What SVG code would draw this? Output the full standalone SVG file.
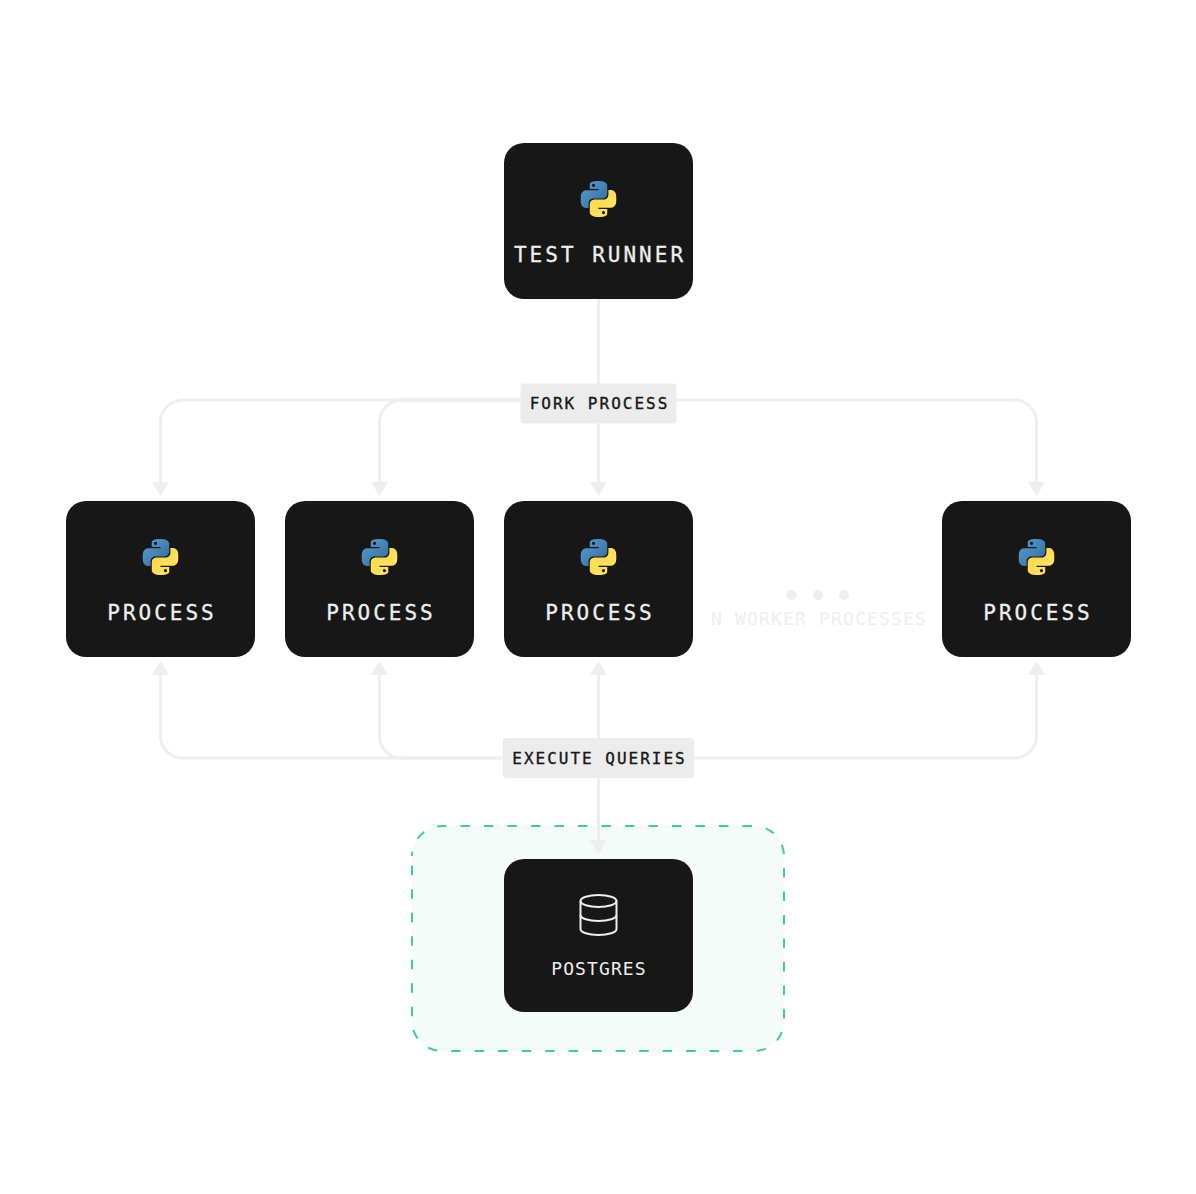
<svg xmlns="http://www.w3.org/2000/svg" width="1196" height="1194" viewBox="0 0 1196 1194">
<style>
.node{fill:#171717}
.lbl{font-family:"DejaVu Sans Mono","Liberation Mono",monospace;font-size:21px;letter-spacing:3px;fill:#eeeeee;stroke:#eeeeee;stroke-width:.3px;text-anchor:middle}
.pill{fill:#ececec}
.pt{font-family:"DejaVu Sans Mono","Liberation Mono",monospace;font-size:16px;letter-spacing:2px;fill:#171717;stroke:#171717;stroke-width:.35px;text-anchor:middle}
.c{fill:none;stroke:#eeeeee;stroke-width:3}
.a{fill:#eeeeee}
</style>
<defs>
<linearGradient id="b" x1="0" y1="0" x2="1" y2="1"><stop offset="0" stop-color="#5a9fd4"/><stop offset="1" stop-color="#306998"/></linearGradient>
<linearGradient id="y" x1="0" y1="0" x2="1" y2="1"><stop offset="0" stop-color="#ffd43b"/><stop offset="1" stop-color="#ffe873"/></linearGradient>
<symbol id="py" viewBox="0 0 24 24">
<path fill="url(#b)" fill-rule="evenodd" d="M14.25.18l.9.2.73.26.59.3.45.32.34.34.25.34.16.33.1.3.04.26.02.2-.01.13V8.5l-.05.63-.13.55-.21.46-.26.38-.3.31-.33.25-.35.19-.35.14-.33.1-.3.07-.26.04-.21.02H8.77l-.69.05-.59.14-.5.22-.41.27-.33.32-.27.35-.2.36-.15.37-.1.35-.07.32-.04.27-.02.21v3.06H3.17l-.21-.03-.28-.07-.32-.12-.35-.18-.36-.26-.36-.36-.35-.46-.32-.59-.28-.73-.21-.88-.14-1.05-.05-1.23.06-1.22.16-1.04.24-.87.32-.71.36-.57.4-.44.42-.33.42-.24.4-.16.36-.1.32-.05.24-.01h.16l.06.01h8.16v-.83H6.18l-.01-2.75-.02-.37.05-.34.11-.31.17-.28.25-.26.31-.23.38-.2.44-.18.51-.15.58-.12.64-.1.71-.06.77-.04.84-.02 1.27.05zm-6.3 1.98l-.23.33-.08.41.08.41.23.34.33.22.41.09.41-.09.33-.22.23-.34.08-.41-.08-.41-.23-.33-.33-.22-.41-.09-.41.09z"/>
<path fill="url(#y)" fill-rule="evenodd" d="M21.04 6.11l.28.06.32.12.35.18.36.27.36.35.35.47.32.59.28.73.21.88.14 1.04.05 1.23-.06 1.23-.16 1.04-.24.86-.32.71-.36.57-.4.45-.42.33-.42.24-.4.16-.36.09-.32.05-.24.02-.16-.01h-8.22v.82h5.84l.01 2.76.02.36-.05.34-.11.31-.17.29-.25.25-.31.24-.38.2-.44.17-.51.15-.58.13-.64.09-.71.07-.77.04-.84.01-1.27-.04-1.07-.14-.9-.2-.73-.25-.59-.3-.45-.33-.34-.34-.25-.34-.16-.33-.1-.3-.04-.25-.02-.2.01-.13v-5.34l.05-.64.13-.54.21-.46.26-.38.3-.32.33-.24.35-.2.35-.14.33-.1.3-.06.26-.04.21-.02.13-.01h5.84l.69-.05.59-.14.5-.21.41-.28.33-.32.27-.35.2-.36.15-.36.1-.35.07-.32.04-.28.02-.21V6.07h2.09l.14.01zm-6.47 14.25l-.23.33-.08.41.08.41.23.33.33.23.41.08.41-.08.33-.23.23-.33.08-.41-.08-.41-.23-.33-.33-.23-.41-.08-.41.08z"/>
</symbol>
<polygon id="ad" class="a" points="-8.500,-14 8.500,-14 0,0"/>
<polygon id="au" class="a" points="-8.500,14 8.500,14 0,0"/>
</defs>
<rect width="1196" height="1194" fill="#ffffff"/>
<g id="postgres-zone"><path d="M412 856A30 30 0 0 1 442 826H754A30 30 0 0 1 784 856V1021A30 30 0 0 1 754 1051H442A30 30 0 0 1 412 1021Z" fill="#f5fbf9" stroke="#3ecf8e" stroke-width="2" stroke-dasharray="9.500 14" stroke-dashoffset="5"/></g>
<g id="connectors">
<path class="c" d="M598.500 299V484"/>
<path class="c" d="M598 400H182.500A22 22 0 0 0 160.500 422V484"/>
<path class="c" d="M598 400H401.500A22 22 0 0 0 379.500 422V484"/>
<path class="c" d="M598 400H1014.500A22 22 0 0 1 1036.500 422V484"/>
<path class="c" d="M598.500 674V840"/>
<path class="c" d="M598 758H182.500A22 22 0 0 1 160.500 736V674"/>
<path class="c" d="M598 758H401.500A22 22 0 0 1 379.500 736V674"/>
<path class="c" d="M598 758H1014.500A22 22 0 0 0 1036.500 736V674"/>
<use href="#ad" x="160.500" y="496"/><use href="#ad" x="379.500" y="496"/><use href="#ad" x="598.500" y="496"/><use href="#ad" x="1036.500" y="496"/>
<use href="#au" x="160.500" y="661"/><use href="#au" x="379.500" y="661"/><use href="#au" x="598.500" y="661"/><use href="#au" x="1036.500" y="661"/>
<use href="#ad" x="598.500" y="854"/>
</g>
<g id="label-fork"><rect class="pill" x="520.500" y="383.500" width="156" height="40" rx="3"/><text class="pt" x="599.500" y="409">FORK PROCESS</text></g>
<g id="label-exec"><rect class="pill" x="503" y="738" width="191" height="40" rx="3"/><text class="pt" x="599.500" y="764">EXECUTE QUERIES</text></g>
<g id="test-runner"><rect class="node" x="504" y="143" width="189" height="156" rx="20"/><use href="#py" x="580.500" y="181" width="36" height="36"/><text class="lbl" x="600" y="262">TEST RUNNER</text></g>
<g id="process-1"><rect class="node" x="66" y="501" width="189" height="156" rx="20"/><use href="#py" x="142.500" y="539" width="36" height="36"/><text class="lbl" x="162" y="620">PROCESS</text></g>
<g id="process-2"><rect class="node" x="285" y="501" width="189" height="156" rx="20"/><use href="#py" x="361.500" y="539" width="36" height="36"/><text class="lbl" x="381" y="620">PROCESS</text></g>
<g id="process-3"><rect class="node" x="504" y="501" width="189" height="156" rx="20"/><use href="#py" x="580.500" y="539" width="36" height="36"/><text class="lbl" x="600" y="620">PROCESS</text></g>
<g id="process-n"><rect class="node" x="942" y="501" width="189" height="156" rx="20"/><use href="#py" x="1018.500" y="539" width="36" height="36"/><text class="lbl" x="1038" y="620">PROCESS</text></g>
<g id="workers"><circle class="a" cx="791.500" cy="595" r="5"/><circle class="a" cx="818" cy="595" r="5"/><circle class="a" cx="844" cy="595" r="5"/><text x="819" y="625" text-anchor="middle" font-family="DejaVu Sans Mono,Liberation Mono,monospace" font-size="18px" letter-spacing="1.150px" fill="#eeeeee">N WORKER PROCESSES</text></g>
<g id="postgres"><rect class="node" x="504" y="859" width="189" height="153" rx="20"/>
<g fill="none" stroke="#eeeeee" stroke-width="2"><ellipse cx="598.500" cy="901" rx="18" ry="6"/><path d="M580.500 901V929C580.500 932.500 588.500 935 598.500 935S616.500 932.500 616.500 929V901"/><path d="M580.500 915C580.500 918.500 588.500 921 598.500 921S616.500 918.500 616.500 915"/></g>
<text x="599" y="975" text-anchor="middle" font-family="DejaVu Sans Mono,Liberation Mono,monospace" font-size="18px" letter-spacing="1.100px" fill="#eeeeee">POSTGRES</text></g>
</svg>
